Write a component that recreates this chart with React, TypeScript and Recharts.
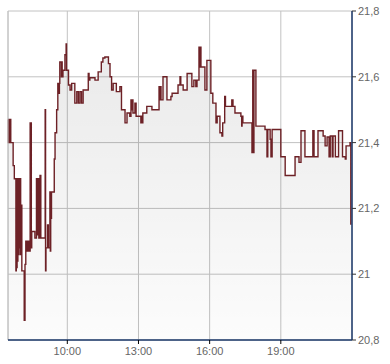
import React from 'react'
import {
  AreaChart,
  Area,
  XAxis,
  YAxis,
  CartesianGrid,
  ReferenceLine,
} from 'recharts'

// intraday quotes
const times = [
  '07:30', '07:31', '07:32', '07:33', '07:34', '07:35', '07:36', '07:37', '07:43', '07:46',
  '07:50', '07:51', '07:52', '07:53', '07:54', '07:55', '07:56', '07:58', '07:59', '08:01',
  '08:02', '08:03', '08:05', '08:11', '08:13', '08:15', '08:17', '08:19', '08:21', '08:23',
  '08:25', '08:26', '08:27', '08:28', '08:29', '08:30', '08:38', '08:42', '08:43', '08:44',
  '08:45', '08:47', '08:48', '08:51', '08:53', '09:04', '09:05', '09:06', '09:10', '09:12',
  '09:16', '09:17', '09:18', '09:20', '09:27', '09:29', '09:33', '09:36', '09:37', '09:38',
  '09:39', '09:40', '09:41', '09:45', '09:46', '09:47', '09:49', '09:54', '09:57', '09:58',
  '10:03', '10:07', '10:11', '10:19', '10:24', '10:28', '10:32', '10:36', '10:40', '10:53',
  '10:55', '10:57', '11:10', '11:18', '11:26', '11:30', '11:35', '11:44', '11:48', '11:52',
  '11:56', '12:04', '12:13', '12:17', '12:26', '12:31', '12:38', '12:41', '12:43', '12:44',
  '12:46', '12:51', '12:54', '13:06', '13:08', '13:09', '13:11', '13:21', '13:34', '13:52',
  '13:54', '13:55', '13:57', '14:02', '14:12', '14:22', '14:25', '14:40', '14:45', '14:47',
  '14:53', '15:03', '15:15', '15:20', '15:25', '15:28', '15:33', '15:35', '15:36', '15:38',
  '15:48', '15:53', '16:03', '16:08', '16:16', '16:19', '16:26', '16:31', '16:33', '16:38',
  '16:40', '16:56', '16:59', '17:04', '17:19', '17:21', '17:22', '17:24', '17:47', '17:49',
  '17:51', '17:52', '17:57', '18:20', '18:25', '18:27', '18:33', '18:35', '18:38', '19:00',
  '19:11', '19:36', '19:46', '19:51', '20:01', '20:21', '20:24', '20:34', '20:47', '20:52',
  '20:57', '21:02', '21:05', '21:10', '21:12', '21:18', '21:26', '21:36', '21:43', '21:45',
  '21:55', '21:57',
]

const prices = [
  21.47, 21.4, 21.47, 21.4, 21.47, 21.4, 21.47, 21.4, 21.33, 21.29,
  21.01, 21.29, 21.02, 21.29, 21.04, 21.29, 21.06, 21.29, 21.08, 21.29,
  21.06, 21.21, 21.01, 20.86, 21.03, 21.1, 21.07, 21.1, 21.07, 21.1,
  21.07, 21.46, 21.08, 21.46, 21.08, 21.13, 21.11, 21.29, 21.12, 21.29,
  21.12, 21.29, 21.11, 21.3, 21.11, 21.5, 21.01, 21.08, 21.15, 21.08,
  21.25, 21.07, 21.17, 21.25, 21.35, 21.43, 21.5, 21.58, 21.55, 21.58,
  21.55, 21.58, 21.645, 21.6, 21.645, 21.6, 21.62, 21.667, 21.7, 21.62,
  21.575, 21.56, 21.58, 21.52, 21.555, 21.52, 21.555, 21.52, 21.56, 21.61,
  21.59, 21.597, 21.59, 21.615, 21.645, 21.657, 21.66, 21.64, 21.6, 21.56,
  21.58, 21.555, 21.57, 21.5, 21.46, 21.49, 21.48, 21.53, 21.5, 21.53,
  21.49, 21.52, 21.48, 21.46, 21.48, 21.46, 21.49, 21.51, 21.5, 21.57,
  21.53, 21.57, 21.53, 21.6, 21.53, 21.54, 21.55, 21.575, 21.6, 21.575,
  21.56, 21.61, 21.57, 21.59, 21.57, 21.59, 21.69, 21.63, 21.69, 21.63,
  21.56, 21.65, 21.55, 21.52, 21.46, 21.48, 21.43, 21.42, 21.46, 21.54,
  21.51, 21.53, 21.51, 21.49, 21.48, 21.45, 21.48, 21.46, 21.37, 21.62,
  21.37, 21.62, 21.45, 21.44, 21.357, 21.44, 21.41, 21.357, 21.44, 21.357,
  21.3, 21.357, 21.34, 21.436, 21.357, 21.436, 21.357, 21.436, 21.42, 21.39,
  21.417, 21.357, 21.42, 21.357, 21.42, 21.357, 21.436, 21.357, 21.35, 21.39,
  21.4, 21.15,
]

const xTicks = ['10:00', '13:00', '16:00', '19:00']
const yTicks = [20.8, 21, 21.2, 21.4, 21.6, 21.8]

const toMinutes = (s: string) => {
  const [h, m] = s.split(':').map(Number)
  return h * 60 + m
}

const fmtTime = (val: number) => {
  const h = Math.floor(val / 60)
  const m = val % 60
  return `${h < 10 ? '0' + h : h}:${m < 10 ? '0' + m : m}`
}

const data = times.map((t, i) => ({ t: toMinutes(t), v: prices[i] }))

const AXIS = '#1d3a6b'
const LABEL = { fill: '#666666', fontSize: 11, fontFamily: 'Liberation Sans, Arial, sans-serif' }

export default function App() {
  return (
    <div style={{ position: 'absolute', left: 0, top: 0, width: 390, height: 364, background: '#fff' }}>
      <AreaChart
        width={390}
        height={364}
        data={data}
        margin={{ top: 11, right: 0, left: 8, bottom: 0 }}
      >
        <defs>
          <linearGradient id="quoteFill" x1="0" y1="0" x2="0" y2="1">
            <stop offset="0%" stopColor="#000" stopOpacity={0.085} />
            <stop offset="100%" stopColor="#000" stopOpacity={0.012} />
          </linearGradient>
        </defs>
        <CartesianGrid stroke="#c2c2c2" strokeWidth={1} />
        <ReferenceLine x={450} stroke="#c2c2c2" />
        <XAxis
          dataKey="t"
          type="number"
          domain={[450, 1320]}
          ticks={xTicks.map(toMinutes)}
          tickFormatter={fmtTime}
          height={24}
          axisLine={{ stroke: AXIS, strokeWidth: 1.5 }}
          tickLine={{ stroke: '#000' }}
          tickSize={4}
          tickMargin={3}
          tick={LABEL}
        />
        <YAxis
          orientation="right"
          type="number"
          domain={[20.8, 21.8]}
          ticks={yTicks}
          tickFormatter={(val: number) => String(val).replace('.', ',')}
          width={38}
          axisLine={{ stroke: AXIS, strokeWidth: 1.5 }}
          tickLine={{ stroke: '#333' }}
          tickSize={4}
          tickMargin={2}
          tick={LABEL}
        />
        <Area
          type="stepAfter"
          dataKey="v"
          stroke="#6d2126"
          strokeWidth={1.4}
          fill="url(#quoteFill)"
          fillOpacity={1}
          dot={false}
          activeDot={false}
          isAnimationActive={false}
        />
      </AreaChart>
    </div>
  )
}
